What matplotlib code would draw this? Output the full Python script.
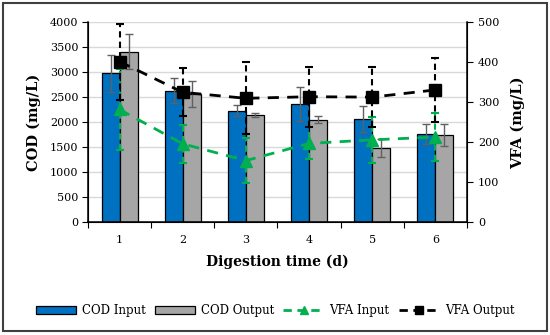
import numpy as np
import matplotlib
matplotlib.use('Agg')
from matplotlib import pyplot as plt
from matplotlib.patches import Patch, Rectangle
from matplotlib.lines import Line2D

# data
days = [1, 2, 3, 4, 5, 6]
cod_input = [2980, 2635, 2235, 2365, 2070, 1770]
cod_input_err = [370, 245, 115, 335, 255, 205]
cod_output = [3415, 2565, 2155, 2050, 1490, 1745]
cod_output_err = [350, 265, 40, 70, 177, 225]
vfa_input = [282, 196, 154, 197, 206, 213]
vfa_input_err = [102, 48, 56, 40, 57, 60]
vfa_output = [402, 325, 310, 314, 313, 331]
vfa_output_err = [95, 60, 90, 75, 76, 81]

BLUE = '#0070C0'
GREY = '#A6A6A6'
GREEN = '#00B050'

plt.rcParams['font.family'] = ['DejaVu Serif']

fig = plt.figure(figsize=(5.5, 3.35), dpi=100)
ax = fig.add_axes([0.16, 0.337, 0.689, 0.596])
ax2 = ax.twinx()

x = np.array(days, dtype=float)
w = 0.285
ax.bar(x - w / 2, cod_input, w, color=BLUE, edgecolor='black', linewidth=0.9,
       yerr=cod_input_err, error_kw=dict(ecolor='#606060', elinewidth=1,
                                          capsize=3, capthick=1), zorder=2)
ax.bar(x + w / 2, cod_output, w, color=GREY, edgecolor='black', linewidth=0.9,
       yerr=cod_output_err, error_kw=dict(ecolor='#606060', elinewidth=1,
                                           capsize=3, capthick=1), zorder=2)

ax.set_ylim(0, 4000)
ax.set_yticks(np.arange(0, 4001, 500))
ax.set_xlim(0.5, 6.5)
ax.yaxis.grid(True, color='#D9D9D9', linewidth=1)
ax.set_axisbelow(True)
ax.set_xticks(np.arange(0.5, 6.6, 1))
ax.set_xticklabels([])
ax.set_xticks(x, minor=True)
ax.set_xticklabels([str(d) for d in days], minor=True)
ax.tick_params(axis='x', which='major', direction='out', length=4, color='black')
ax.tick_params(axis='x', which='minor', length=0, pad=9, labelsize=8)
ax.tick_params(axis='y', direction='out', length=4, labelsize=8, pad=3)
ax.spines['top'].set_visible(False)
ax2.spines['top'].set_visible(False)
ax.spines['left'].set_linewidth(1.1)
ax.spines['bottom'].set_linewidth(1.1)
ax2.spines['right'].set_linewidth(1.1)

# VFA lines on the right axis
eb1 = ax2.errorbar(x, vfa_input, yerr=vfa_input_err, color=GREEN,
                   linestyle=(0, (4, 3)), linewidth=2, marker='^',
                   markersize=8, capsize=3, capthick=1.5, elinewidth=1.5,
                   zorder=3)
eb1[-1][0].set_linestyle((0, (3, 2)))
eb2 = ax2.errorbar(x, vfa_output, yerr=vfa_output_err, color='black',
                   linestyle=(0, (4, 3)), linewidth=2, marker='s',
                   markersize=8, capsize=3, capthick=1.5, elinewidth=1.5,
                   zorder=4)
eb2[-1][0].set_linestyle((0, (3, 2)))
ax2.set_ylim(0, 500)
ax2.set_yticks(np.arange(0, 501, 100))
ax2.tick_params(axis='y', direction='out', length=4, labelsize=8, pad=4)

ax.set_ylabel('COD (mg/L)', fontsize=10.5, fontweight='bold', labelpad=6)
ax2.set_ylabel('VFA (mg/L)', fontsize=10.5, fontweight='bold', labelpad=8)
ax.set_xlabel('Digestion time (d)', fontsize=10, fontweight='bold', labelpad=7)

handles = [Patch(facecolor=BLUE, edgecolor='black', linewidth=0.9),
           Patch(facecolor=GREY, edgecolor='black', linewidth=0.9),
           Line2D([], [], color=GREEN, linestyle=(0, (3, 2)), linewidth=2,
                  marker='^', markersize=6),
           Line2D([], [], color='black', linestyle=(0, (3, 2)), linewidth=2,
                  marker='s', markersize=6)]
labels = ['COD Input', 'COD Output', 'VFA Input', 'VFA Output']
fig.legend(handles, labels, loc='center', bbox_to_anchor=(0.5, 0.072), ncol=4,
           frameon=False, fontsize=8.5, handlelength=3.4, handleheight=0.6,
           columnspacing=0.8, handletextpad=0.5)

fig.patches.append(Rectangle((0.006, 0.012), 0.988, 0.978, transform=fig.transFigure,
                             fill=False, edgecolor='#404040', linewidth=1.5))

fig.savefig('out.png', dpi=100)
